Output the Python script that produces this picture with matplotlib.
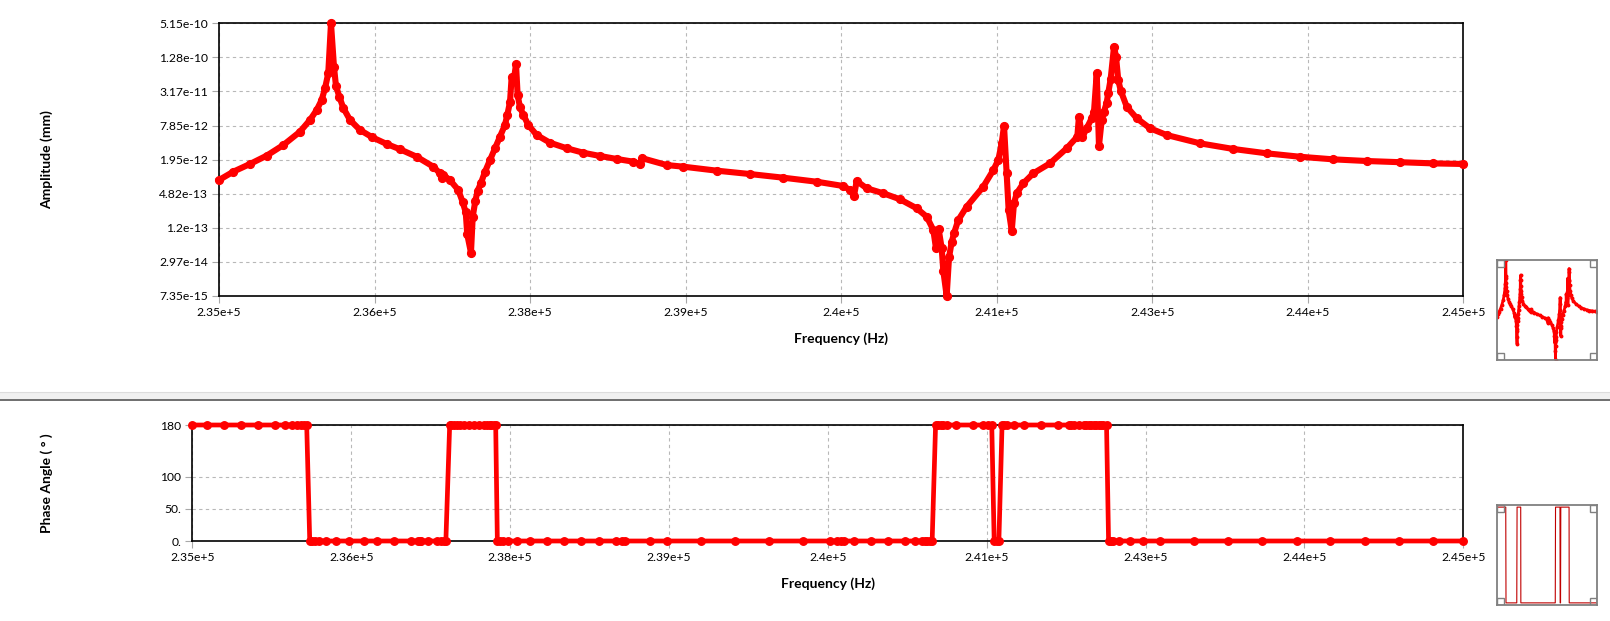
import matplotlib
matplotlib.use("Agg")
import matplotlib.pyplot as plt
from matplotlib.patches import Rectangle
from matplotlib.lines import Line2D
from matplotlib.ticker import NullLocator

plt.rcParams['font.family'] = ['Lato', 'DejaVu Sans']

# frequency response readings (Hz, mm, degrees)
freq = [235000, 235115, 235249, 235383, 235517, 235651, 235731, 235785, 235825, 235852,
        235878, 235900, 235924, 235940, 235967, 235999, 236053, 236133, 236232, 236348,
        236455, 236589, 236722, 236776, 236790, 236800, 236856, 236923, 236959, 236983,
        236995, 237025, 237039, 237060, 237079, 237106, 237138, 237178, 237218, 237258,
        237298, 237317, 237339, 237352, 237373, 237387, 237400, 237419, 237446, 237486,
        237553, 237660, 237794, 237928, 238062, 238196, 238330, 238383, 238402, 238598,
        238731, 239000, 239267, 239535, 239803, 240017, 240071, 240103, 240125, 240205,
        240339, 240473, 240607, 240688, 240741, 240762, 240784, 240808, 240821, 240848,
        240867, 240888, 240907, 240941, 241009, 241142, 241223, 241263, 241290, 241309,
        241330, 241346, 241371, 241389, 241411, 241464, 241544, 241678, 241813, 241898,
        241911, 241938, 241973, 242014, 242032, 242054, 242072, 242094, 242112, 242134,
        242147, 242166, 242193, 242209, 242227, 242247, 242295, 242375, 242482, 242616,
        242884, 243152, 243420, 243688, 243955, 244224, 244491, 244759, 245000]

amplitude = [8.45e-13, 1.19e-12, 1.63e-12, 2.29e-12, 3.54e-12, 6.11e-12, 9.86e-12, 1.48e-11, 2.23e-11, 3.60e-11,
             6.66e-11, 5.15e-10, 8.73e-11, 3.96e-11, 2.56e-11, 1.61e-11, 9.86e-12, 6.55e-12, 4.85e-12, 3.69e-12,
             2.97e-12, 2.19e-12, 1.46e-12, 1.11e-12, 9.3e-13, 1.05e-12, 8.45e-13, 5.62e-13, 3.40e-13, 2.25e-13,
             9.17e-14, 4.32e-14, 1.88e-13, 3.62e-13, 5.46e-13, 7.57e-13, 1.19e-12, 1.92e-12, 3.10e-12, 4.98e-12,
             8.03e-12, 1.21e-11, 2.08e-11, 5.79e-11, 5.79e-11, 9.62e-11, 2.74e-11, 1.66e-11, 1.21e-11, 8.03e-12,
             5.33e-12, 3.89e-12, 3.10e-12, 2.58e-12, 2.26e-12, 2.00e-12, 1.79e-12, 1.63e-12, 2.06e-12, 1.56e-12,
             1.46e-12, 1.24e-12, 1.08e-12, 9.3e-13, 7.89e-13, 6.62e-13, 5.62e-13, 4.40e-13, 8.13e-13, 6.03e-13,
             4.91e-13, 3.84e-13, 2.66e-13, 1.88e-13, 1.09e-13, 5.18e-14, 1.12e-13, 5.18e-14, 2.07e-14, 7.35e-15,
             3.58e-14, 6.61e-14, 9.55e-14, 1.64e-13, 2.84e-13, 6.43e-13, 1.27e-12, 1.92e-12, 3.79e-12, 7.80e-12,
             1.11e-12, 2.48e-13, 1.06e-13, 3.26e-13, 4.91e-13, 7.40e-13, 1.11e-12, 1.67e-12, 3.10e-12, 4.98e-12,
             1.13e-11, 4.85e-12, 7.02e-12, 1.06e-11, 1.38e-11, 6.66e-11, 3.44e-12, 9.86e-12, 1.38e-11, 2.00e-11,
             3.01e-11, 5.27e-11, 1.98e-10, 1.31e-10, 5.06e-11, 3.27e-11, 1.70e-11, 1.06e-11, 7.02e-12, 5.33e-12,
             3.79e-12, 3.01e-12, 2.52e-12, 2.19e-12, 1.97e-12, 1.84e-12, 1.75e-12, 1.67e-12, 1.63e-12]

phase = [180, 180, 180, 180, 180, 180, 180, 180, 180, 180,
         180, 180, 0, 0, 0, 0, 0, 0, 0, 0,
         0, 0, 0, 0, 0, 0, 0, 0, 0, 0,
         0, 180, 180, 180, 180, 180, 180, 180, 180, 180,
         180, 180, 180, 180, 180, 180, 0, 0, 0, 0,
         0, 0, 0, 0, 0, 0, 0, 0, 0, 0,
         0, 0, 0, 0, 0, 0, 0, 0, 0, 0,
         0, 0, 0, 0, 0, 0, 0, 0, 0, 180,
         180, 180, 180, 180, 180, 180, 180, 180, 180, 0,
         0, 0, 180, 180, 180, 180, 180, 180, 180, 180,
         180, 180, 180, 180, 180, 180, 180, 180, 180, 180,
         180, 180, 180, 0, 0, 0, 0, 0, 0, 0,
         0, 0, 0, 0, 0, 0, 0, 0, 0]

x_ticks = [235000, 236250, 237500, 238750, 240000, 241250, 242500, 243750, 245000]
x_tick_labels = ['2.35e+5', '2.36e+5', '2.38e+5', '2.39e+5', '2.4e+5',
                 '2.41e+5', '2.43e+5', '2.44e+5', '2.45e+5']
amp_ticks = [7.35e-15, 2.97e-14, 1.2e-13, 4.82e-13, 1.95e-12,
             7.85e-12, 3.17e-11, 1.28e-10, 5.15e-10]
amp_tick_labels = ['7.35e-15', '2.97e-14', '1.2e-13', '4.82e-13', '1.95e-12',
                   '7.85e-12', '3.17e-11', '1.28e-10', '5.15e-10']
phase_ticks = [0, 50, 100, 180]
phase_tick_labels = ['0.', '50.', '100', '180']

W, H = 1610, 621
fig = plt.figure(figsize=(W / 100, H / 100), dpi=100)
fig.patch.set_facecolor('white')


def box(l, t, r, b):
    # pixel box -> figure fraction
    return [l / W, 1 - b / H, (r - l) / W, (b - t) / H]


def style(ax):
    for s in ax.spines.values():
        s.set_linewidth(1.2)
        s.set_color('black')
    ax.grid(True, color='#b8b8b8', linestyle=(0, (3, 3)), linewidth=0.8)
    ax.set_axisbelow(True)
    ax.tick_params(direction='out', length=5, width=0.8, color='#a8a8a8',
                   labelsize=8.7, pad=3)
    ax.set_xlim(235000, 245000)
    ax.set_xticks(x_ticks, x_tick_labels)


# amplitude panel
ax1 = fig.add_axes(box(219, 23.3, 1463.3, 296))
ax1.set_yscale('log')
ax1.set_ylim(7.35e-15, 5.15e-10)
style(ax1)
ax1.set_yticks(amp_ticks, amp_tick_labels)
ax1.yaxis.set_minor_locator(NullLocator())
ax1.plot(freq, amplitude, color='red', lw=4.4, marker='o', ms=5.6,
         solid_joinstyle='round', clip_on=False, zorder=3)

# phase panel
ax2 = fig.add_axes(box(192.3, 425, 1463.3, 541))
ax2.set_ylim(0, 180)
style(ax2)
ax2.set_yticks(phase_ticks, phase_tick_labels)
ax2.plot(freq, phase, color='red', lw=3.4, marker='o', ms=5.4,
         clip_on=False, zorder=3)

lab = dict(fontsize=10, fontweight='bold', ha='center', va='center')
fig.text(47 / W, 1 - 160 / H, 'Amplitude (mm)', rotation=90, **lab)
fig.text(841 / W, 1 - 339 / H, 'Frequency (Hz)', **lab)
fig.text(47 / W, 1 - 483 / H, 'Phase Angle ( \u00b0 )', rotation=90, **lab)
fig.text(828 / W, 1 - 584 / H, 'Frequency (Hz)', **lab)

# splitter bar between the two panels
fig.add_artist(Rectangle((0, 1 - 399 / H), 1, 7 / H, transform=fig.transFigure,
                         facecolor='#f0f0f0', edgecolor='none'))
fig.add_artist(Line2D([0, 1], [1 - 392 / H] * 2, transform=fig.transFigure,
                      color='#dcdcdc', lw=0.8))
fig.add_artist(Line2D([0, 1], [1 - 399.5 / H] * 2, transform=fig.transFigure,
                      color='#6e6e6e', lw=1.4))


# small overview thumbnails
def thumb(t):
    t.set_xticks([])
    t.set_yticks([])
    t.yaxis.set_minor_locator(NullLocator())
    for s in t.spines.values():
        s.set_color('#808080')
        s.set_linewidth(1.3)
    for cx, cy in [(0, 0), (0.93, 0), (0, 0.93), (0.93, 0.93)]:
        t.add_patch(Rectangle((cx, cy), 0.07, 0.07, transform=t.transAxes,
                              fill=False, edgecolor='#808080', lw=1.0, zorder=5))


t1 = fig.add_axes(box(1496.7, 260, 1597.3, 360))
t1.plot(freq, amplitude, color='red', lw=2.0, marker='o', ms=1.8)
t1.set_yscale('log')
t1.set_xlim(235000, 245000)
t1.set_ylim(7.35e-15, 5.15e-10)
thumb(t1)

t2 = fig.add_axes(box(1496.7, 505, 1597.3, 605))
t2.plot(freq, phase, color='#c00000', lw=0.8)
t2.set_xlim(235000, 245000)
t2.set_ylim(-4, 184)
thumb(t2)

fig.savefig('out.png', dpi=100)
